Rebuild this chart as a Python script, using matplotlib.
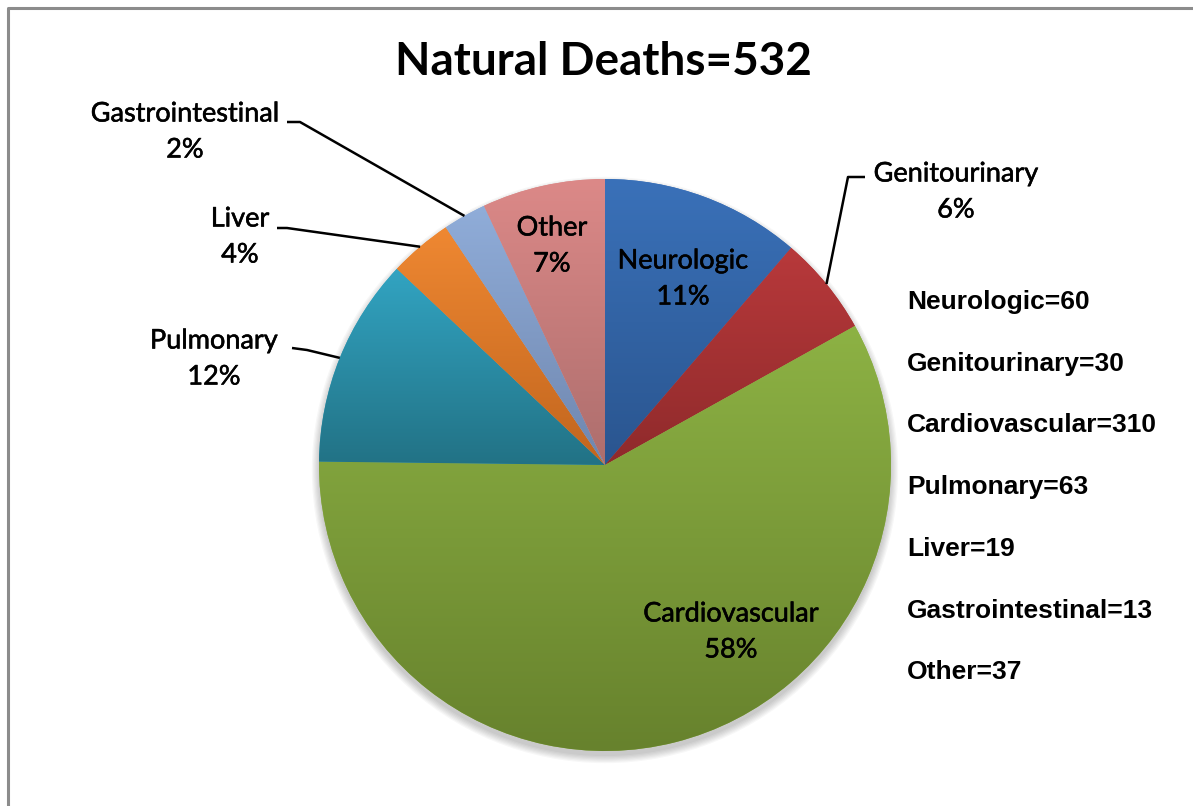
import numpy as np
import matplotlib
matplotlib.use("Agg")
import matplotlib.pyplot as plt
import matplotlib.patheffects as pe
from matplotlib import font_manager
from matplotlib.colors import LinearSegmentedColormap
from matplotlib.patches import Circle

# data
categories = ["Neurologic", "Genitourinary", "Cardiovascular", "Pulmonary",
              "Liver", "Gastrointestinal", "Other"]
counts = [60, 30, 310, 63, 19, 13, 37]
title = "Natural Deaths=532"

# excel-ish shading: light at the top, darker at the bottom
colors_top = ["#3a71b9", "#b8393b", "#8db244", "#32a4c2", "#ef8832", "#90add9", "#dc8988"]
colors_bottom = ["#2a558f", "#8f2a2b", "#67822d", "#227285", "#c1651e", "#6f86ae", "#ad6e6d"]

W, H = 1193, 806
CX, CY, R = 605, 465, 286   # image px


def Y(y):
    return H - y


def pick_font(names):
    avail = {f.name for f in font_manager.fontManager.ttflist}
    for n in names:
        if n in avail:
            return n
    return "DejaVu Sans"


TITLE_FONT = pick_font(["Liberation Sans Narrow", "Lato", "Liberation Sans"])
LABEL_FONT = pick_font(["Lato", "Open Sans", "Liberation Sans"])
LIST_FONT = pick_font(["Liberation Sans", "DejaVu Sans"])

fig = plt.figure(figsize=(W / 100, H / 100), dpi=100)
ax = fig.add_axes([0, 0, 1, 1])

# soft shadow under the pie
for i in range(7):
    ax.add_patch(Circle((CX, Y(CY) - 5), R + i * 1.2, color="black",
                        alpha=0.03, lw=0, zorder=0))

wedges = ax.pie(counts, startangle=90, counterclock=False, center=(CX, Y(CY)),
                radius=R, colors=colors_top, wedgeprops=dict(linewidth=0))[0]

grad = np.linspace(0, 1, 256).reshape(-1, 1)
for w, ct, cb in zip(wedges, colors_top, colors_bottom):
    ext = w.get_path().get_extents()
    cmap = LinearSegmentedColormap.from_list("g", [cb, ct])
    im = ax.imshow(grad, cmap=cmap, origin="lower", aspect="auto",
                   extent=[ext.x0, ext.x1, ext.y0, ext.y1], zorder=2,
                   interpolation="bicubic")
    im.set_clip_path(w)

total = sum(counts)
pct = [f"{round(c / total * 100)}%" for c in counts]

# label layout (image px)
inner_pos = {"Neurologic": (683, 279), "Cardiovascular": (731, 632), "Other": (552, 246)}
outer_pos = {
    "Genitourinary": ((956, 192), (865, 177), (848, 177)),
    "Pulmonary": ((214, 359), (292, 348), (307, 350)),
    "Liver": ((240, 237), (277, 228), (287, 228)),
    "Gastrointestinal": ((185, 132), (287, 122), (300, 122)),
}
# slight stroke so Lato looks closer to the heavier Calibri rendering
thick = [pe.withStroke(linewidth=0.4, foreground="black")]
label_kw = dict(ha="center", va="center", fontsize=19.5, family=LABEL_FONT,
                linespacing=1.55, zorder=5, path_effects=thick)

for w, name, p in zip(wedges, categories, pct):
    txt = f"{name}\n{p}"
    if name in inner_pos:
        x, y = inner_pos[name]
        ax.text(x, Y(y), txt, **label_kw)
    else:
        (tx, ty), (sx, sy), (ex, ey) = outer_pos[name]
        ax.text(tx, Y(ty), txt, **label_kw)
        mid = np.deg2rad((w.theta1 + w.theta2) / 2)
        axx, ayy = CX + R * np.cos(mid), Y(CY) + R * np.sin(mid)
        ax.plot([sx, ex, axx], [Y(sy), Y(ey), ayy], color="black", lw=1.8,
                zorder=4, solid_capstyle="butt")

# count list on the right
for i, (name, c) in enumerate(zip(categories, counts)):
    ax.text(907, Y(302 + i * 61.7), f"{name}={c}", ha="left", va="center",
            fontsize=19, fontweight="bold", family=LIST_FONT)

ax.text(603, Y(62), title, ha="center", va="center", fontsize=33,
        fontweight="bold", family=TITLE_FONT)

# chart frame (only top and left edge visible)
ax.plot([8, 8, W + 20], [-20, Y(8), Y(8)], color="#8c8c8c", lw=2.2, zorder=6)

ax.set_xlim(0, W)
ax.set_ylim(0, H)
ax.set_aspect("auto")
ax.axis("off")

fig.savefig("out.png", dpi=100)
